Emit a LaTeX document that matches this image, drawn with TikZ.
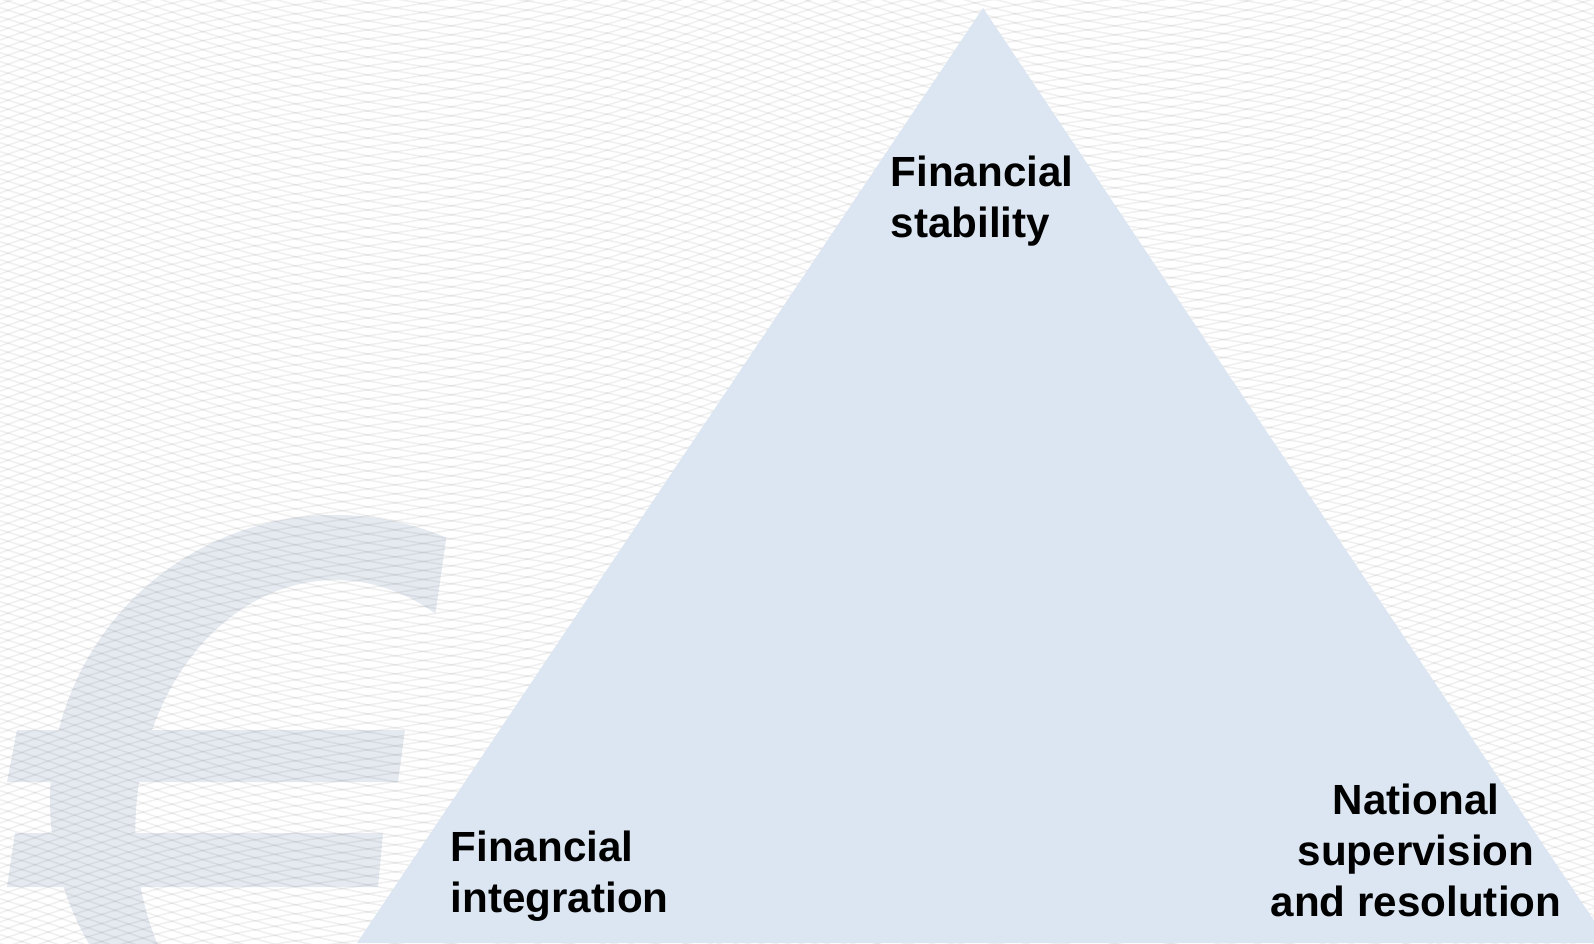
\documentclass[tikz,border=0pt]{standalone}
\usepackage{fontspec}
\setmainfont{Liberation Sans}
\usetikzlibrary{positioning}

\definecolor{pyramid}{RGB}{220,230,242}
\definecolor{eurosign}{RGB}{229,234,241}

\begin{document}
\begin{tikzpicture}[
    % Base styles for the labels and the background
    every node/.style={font=\bfseries\fontsize{12}{14.5}\selectfont},
    label/.style={inner sep=0pt, text=black},
    wave/.style={draw=black, opacity=0.06, line width=0.45pt},
    corner/.style={fill=pyramid}
]

% ==================== FRAME ====================
\useasboundingbox (0,0) rectangle (15.94,9.43);
\clip (0,0) rectangle (15.94,9.43);
\fill[white] (0,0) rectangle (15.94,9.43);

% ==================== EURO WATERMARK ====================
% ring of the sign
\fill[eurosign] (3.35,1.43) ++(67:2.85) arc[start angle=67, end angle=250, radius=2.85]
    -- (2.67,-1.22) arc[start angle=250, end angle=60, x radius=2.0, y radius=2.5] -- cycle;
% the two bars
\fill[eurosign] (0.17,2.13) -- (4.05,2.13) -- (3.98,1.61) -- (0.07,1.61) -- cycle;
\fill[eurosign] (0.15,1.10) -- (3.83,1.10) -- (3.78,0.56) -- (0.07,0.56) -- cycle;

% ==================== GUILLOCHE LINES ====================
\foreach \c in {-4.2,-4.11,...,9.7}
    \draw[wave] plot[domain=0:15.94, samples=40] (\x, {\c + 0.25*\x + 0.12*sin(50*\x)});
\foreach \c in {-0.2,-0.11,...,13.7}
    \draw[wave] plot[domain=0:15.94, samples=40] (\x, {\c - 0.25*\x + 0.12*sin(50*\x + 120)});

% ==================== PYRAMID ====================
\coordinate (apex) at (9.83,9.35);
\coordinate (baseL) at (3.57,0);
\coordinate (baseR) at (16.09,0);
\fill[corner] (apex) -- (baseL) -- (baseR) -- cycle;

% labels in the three corners (base = last line)
\node[label, align=left, anchor=base west] (stab) at (8.90,7.06) {Financial\\stability};
\node[label, align=left, anchor=base west] (integ) at (4.50,0.31) {Financial\\integration};
\node[label, align=center, anchor=base] (natl) at (14.16,0.27) {National\\supervision\\and resolution};

\end{tikzpicture}
\end{document}
